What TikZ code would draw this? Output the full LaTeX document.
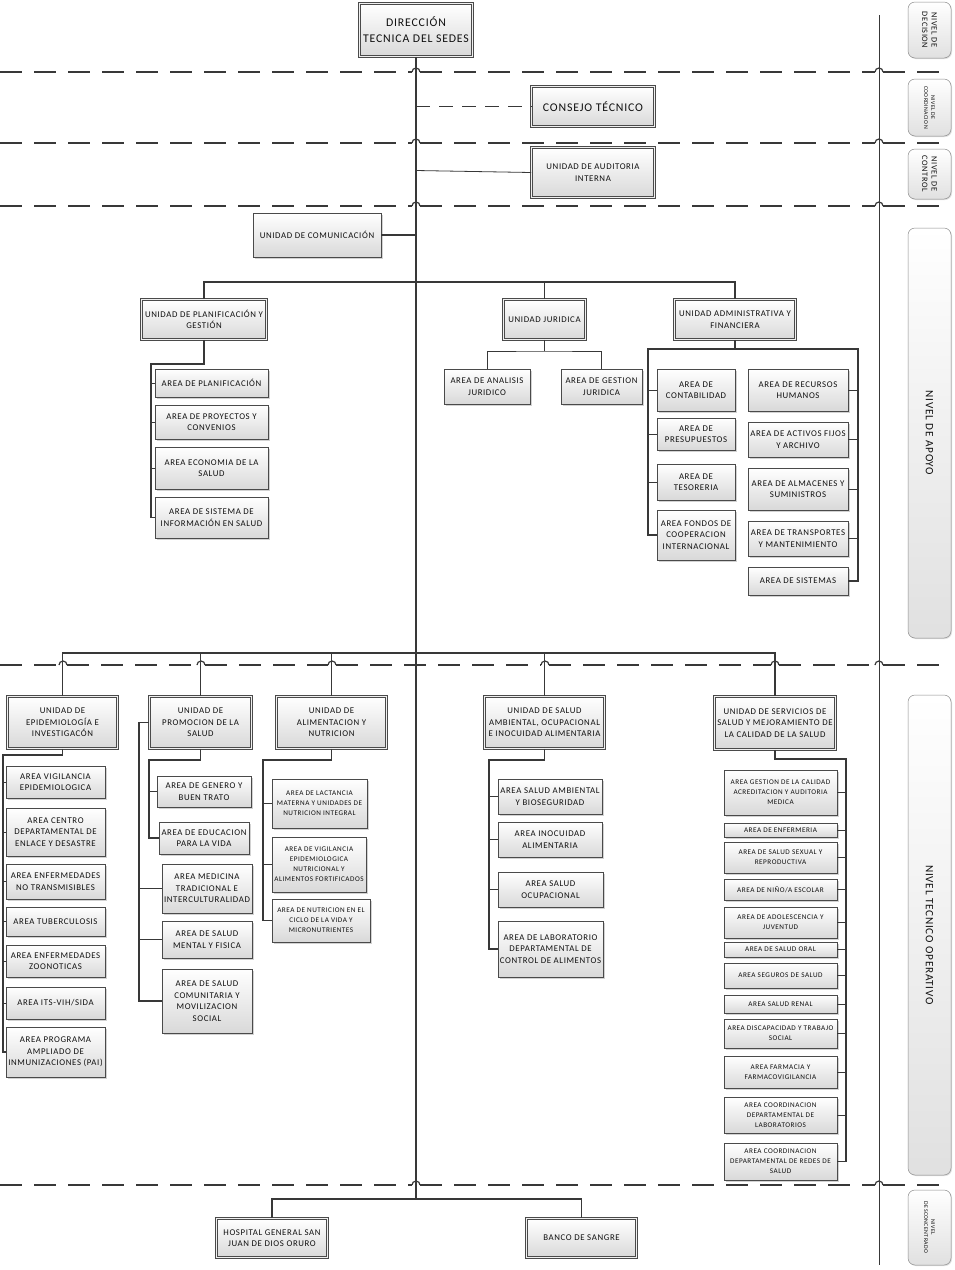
\documentclass[tikz,border=0pt]{standalone}
\usepackage{fontspec}
\setmainfont{Carlito}[LetterSpace=7]
\usetikzlibrary{shadows}
\definecolor{ln}{HTML}{383838}
\definecolor{bd}{HTML}{4A4A4A}
\definecolor{txt}{HTML}{101010}
\newcommand{\fB}{\fontsize{11.8}{16}\selectfont}
\newcommand{\fN}{\fontsize{8.8}{11.5}\selectfont}
\newcommand{\fS}{\fontsize{7.2}{10}\selectfont}
\newcommand{\fL}{\fontsize{11.2}{13}\selectfont}
\tikzset{
 areabox/.style={draw=bd, line width=0.6pt, top color=white, bottom color=black!15,
   drop shadow={opacity=0.35, shadow xshift=1.6pt, shadow yshift=-1.6pt},
   inner sep=0pt, align=center, text=txt, font=\fN},
 unitbox/.style={areabox, double=black!6, double distance=1.8pt},
 sidebox/.style={draw=black!45, line width=0.5pt, rounded corners=7pt, top color=white, bottom color=black!12,
   drop shadow={opacity=0.25, shadow xshift=1pt, shadow yshift=-1pt}, rotate=-90,
   align=center, inner sep=0pt, text=txt},
 trunk/.style={draw=ln, line width=2pt},
 bar/.style={draw=ln, line width=1.5pt},
 spine/.style={draw=ln, line width=1.6pt},
 tick/.style={draw=ln, line width=0.8pt},
 lvl/.style={draw=ln, line width=1.2pt, dash pattern=on 22pt off 12pt},
 hopst/.style={draw=ln, line width=1.2pt},
 cdash/.style={draw=ln, line width=1.2pt, dash pattern=on 14pt off 9pt},
 sideln/.style={draw=ln, line width=0.9pt}
}
% name, x1, y1, x2, y2, options, text
\newcommand{\BX}[7]{\node[#6, minimum width={(#4-#2)*1pt}, minimum height={(#5-#3)*1pt}] (#1) at ({(#2+#4)/2},{(#3+#5)/2}) {#7};}
\newcommand{\UB}[7]{\node[unitbox,#6, minimum width={(#4-#2-3)*1pt}, minimum height={(#5-#3-3)*1pt}] (#1) at ({(#2+#4)/2},{(#3+#5)/2}) {#7};}
\newcommand{\SB}[7]{\node[sidebox,font=#6, minimum width={(#5-#3)*1pt}, minimum height={(#4-#2)*1pt}] (#1) at ({(#2+#4)/2},{(#3+#5)/2}) {#7};}
\begin{document}
\begin{tikzpicture}[x=1pt,y=-1pt]
\useasboundingbox (0,0) rectangle (954,1270);
\fill[white] (0,0) rectangle (954,1270);

% ---- level separators
\foreach \yy in {72,143,206,1185}{
  \draw[lvl] (0,\yy) -- (412,\yy);
  \draw[hopst] (412,\yy) arc[start angle=180,end angle=0,radius=4pt];
  \draw[lvl] (420,\yy) -- (875,\yy);
  \draw[hopst] (875,\yy) arc[start angle=180,end angle=0,radius=4pt];
  \draw[lvl] (883,\yy) -- (945,\yy);
}
\foreach \a/\b in {0/59,67/197,205/328,336/541,549/771,779/875,883/945}
  \draw[lvl] (\a,665) -- (\b,665);
\foreach \h in {63,201,332,545,775,879}
  \draw[hopst] (\h-4,665) arc[start angle=180,end angle=0,radius=4pt];
\draw[sideln] (879,15) -- (879,1265);

% ---- side level labels
\SB{lv1}{908}{2}{951}{58}{\fontsize{8.3}{9.5}\selectfont}{NIVEL DE\\DECISION}
\SB{lv2}{908}{79}{951}{136}{\fontsize{5.8}{7}\selectfont}{NIVEL DE\\COORDINACION}
\SB{lv3}{908}{149}{951}{199}{\fontsize{8.3}{9.5}\selectfont}{NIVEL DE\\CONTROL}
\SB{lv4}{908}{228}{951}{638}{\fL}{NIVEL DE APOYO}
\SB{lv5}{908}{695}{951}{1175}{\fL}{NIVEL TECNICO OPERATIVO}
\SB{lv6}{908}{1190}{951}{1265}{\fontsize{5.8}{7}\selectfont}{NIVEL\\DESCONCENTRADO}

% ---- top
\UB{dir}{358}{2}{474}{58}{font=\fB}{DIRECCIÓN\\TECNICA DEL SEDES}
\UB{cons}{530}{85}{656}{128}{font=\fB}{CONSEJO TÉCNICO}
\UB{aud}{530}{146}{656}{199}{}{UNIDAD DE AUDITORIA\\INTERNA}
\BX{com}{253}{213}{381}{257}{areabox}{UNIDAD DE COMUNICACIÓN}

% ---- apoyo
\UB{plan}{140}{298}{268}{341}{}{UNIDAD DE PLANIFICACIÓN Y\\GESTIÓN}
\UB{jur}{502}{298}{587}{341}{}{UNIDAD JURIDICA}
\UB{adm}{673}{298}{797}{341}{}{UNIDAD ADMINISTRATIVA Y\\FINANCIERA}
\BX{p1}{155}{369}{268}{397}{areabox}{AREA DE PLANIFICACIÓN}
\BX{p2}{155}{405}{268}{439}{areabox}{AREA DE PROYECTOS Y\\CONVENIOS}
\BX{p3}{155}{447}{268}{489}{areabox}{AREA ECONOMIA DE LA\\SALUD}
\BX{p4}{155}{497}{268}{538}{areabox}{AREA DE SISTEMA DE\\INFORMACIÓN EN SALUD}
\BX{ja}{444}{369}{530}{404}{areabox}{AREA DE ANALISIS\\JURIDICO}
\BX{jg}{561}{369}{642}{404}{areabox}{AREA DE GESTION\\JURIDICA}
\BX{a1}{657}{369}{735}{411}{areabox}{AREA DE\\CONTABILIDAD}
\BX{a2}{657}{418}{735}{450}{areabox}{AREA DE\\PRESUPUESTOS}
\BX{a3}{657}{464}{735}{500}{areabox}{AREA DE\\TESORERIA}
\BX{a4}{657}{510}{735}{560}{areabox}{AREA FONDOS DE\\COOPERACION\\INTERNACIONAL}
\BX{a5}{748}{369}{848}{411}{areabox}{AREA DE RECURSOS\\HUMANOS}
\BX{a6}{748}{422}{848}{457}{areabox}{AREA DE ACTIVOS FIJOS\\Y ARCHIVO}
\BX{a7}{748}{468}{848}{510}{areabox}{AREA DE ALMACENES Y\\SUMINISTROS}
\BX{a8}{748}{521}{848}{556}{areabox}{AREA DE TRANSPORTES\\Y MANTENIMIENTO}
\BX{a9}{748}{567}{848}{595}{areabox}{AREA DE SISTEMAS}

% ---- tecnico operativo
\UB{epi}{6}{695}{119}{750}{}{UNIDAD DE\\EPIDEMIOLOGÍA E\\INVESTIGACÓN}
\UB{promo}{148}{695}{253}{750}{}{UNIDAD DE\\PROMOCION DE LA\\SALUD}
\UB{alim}{275}{695}{388}{750}{}{UNIDAD DE\\ALIMENTACION Y\\NUTRICION}
\UB{samb}{483}{695}{606}{750}{}{UNIDAD DE SALUD\\AMBIENTAL, OCUPACIONAL\\E INOCUIDAD ALIMENTARIA}
\UB{serv}{713}{695}{837}{751}{}{UNIDAD DE SERVICIOS DE\\SALUD Y MEJORAMIENTO DE\\LA CALIDAD DE LA SALUD}

\BX{e1}{6}{766}{105}{798}{areabox}{AREA VIGILANCIA\\EPIDEMIOLOGICA}
\BX{e2}{6}{808}{105}{856}{areabox}{AREA CENTRO\\DEPARTAMENTAL DE\\ENLACE Y DESASTRE}
\BX{e3}{6}{864}{105}{899}{areabox}{AREA ENFERMEDADES\\NO TRANSMISIBLES}
\BX{e4}{6}{907}{105}{936}{areabox}{AREA TUBERCULOSIS}
\BX{e5}{6}{945}{105}{977}{areabox}{AREA ENFERMEDADES\\ZOONOTICAS}
\BX{e6}{6}{987}{105}{1019}{areabox}{AREA ITS-VIH/SIDA}
\BX{e7}{6}{1027}{105}{1077}{areabox}{AREA PROGRAMA\\AMPLIADO DE\\INMUNIZACIONES (PAI)}

\BX{pr1}{157}{776}{251}{807}{areabox}{AREA DE GENERO Y\\BUEN TRATO}
\BX{pr2}{159}{822}{249}{854}{areabox}{AREA DE EDUCACION\\PARA LA VIDA}
\BX{pr3}{162}{864}{252}{913}{areabox}{AREA MEDICINA\\TRADICIONAL E\\INTERCULTURALIDAD}
\BX{pr4}{162}{921}{252}{958}{areabox}{AREA DE SALUD\\MENTAL Y FISICA}
\BX{pr5}{162}{969}{252}{1033}{areabox}{AREA DE SALUD\\COMUNITARIA Y\\MOVILIZACION\\SOCIAL}

\BX{al1}{272}{779}{367}{828}{areabox,font=\fS}{AREA DE LACTANCIA\\MATERNA Y UNIDADES DE\\NUTRICION INTEGRAL}
\BX{al2}{272}{837}{366}{892}{areabox,font=\fS}{AREA DE VIGILANCIA\\EPIDEMIOLOGICA\\NUTRICIONAL Y\\ALIMENTOS FORTIFICADOS}
\BX{al3}{272}{899}{370}{942}{areabox,font=\fS}{AREA DE NUTRICION EN EL\\CICLO DE LA VIDA Y\\MICRONUTRIENTES}

\BX{sa1}{498}{779}{602}{814}{areabox}{AREA SALUD AMBIENTAL\\Y BIOSEGURIDAD}
\BX{sa2}{498}{822}{602}{857}{areabox}{AREA INOCUIDAD\\ALIMENTARIA}
\BX{sa3}{498}{872}{603}{907}{areabox}{AREA SALUD\\OCUPACIONAL}
\BX{sa4}{498}{921}{603}{977}{areabox}{AREA DE LABORATORIO\\DEPARTAMENTAL DE\\CONTROL DE ALIMENTOS}

\BX{sv1}{724}{770}{837}{815}{areabox,font=\fS}{AREA GESTION DE LA CALIDAD\\ACREDITACION Y AUDITORIA\\MEDICA}
\BX{sv2}{724}{823}{837}{837}{areabox,font=\fS}{AREA DE ENFERMERIA}
\BX{sv3}{724}{842}{837}{873}{areabox,font=\fS}{AREA DE SALUD SEXUAL Y\\REPRODUCTIVA}
\BX{sv4}{724}{879}{837}{900}{areabox,font=\fS}{AREA DE NIÑO/A ESCOLAR}
\BX{sv5}{724}{907}{837}{938}{areabox,font=\fS}{AREA DE ADOLESCENCIA Y\\JUVENTUD}
\BX{sv6}{724}{942}{837}{957}{areabox,font=\fS}{AREA DE SALUD ORAL}
\BX{sv7}{724}{963}{837}{988}{areabox,font=\fS}{AREA SEGUROS DE SALUD}
\BX{sv8}{724}{995}{837}{1013}{areabox,font=\fS}{AREA SALUD RENAL}
\BX{sv9}{724}{1019}{837}{1048}{areabox,font=\fS}{AREA DISCAPACIDAD Y TRABAJO\\SOCIAL}
\BX{sv10}{724}{1056}{837}{1088}{areabox,font=\fS}{AREA FARMACIA Y\\FARMACOVIGILANCIA}
\BX{sv11}{724}{1097}{837}{1133}{areabox,font=\fS}{AREA COORDINACION\\DEPARTAMENTAL DE\\LABORATORIOS}
\BX{sv12}{724}{1143}{837}{1180}{areabox,font=\fS}{AREA COORDINACION\\DEPARTAMENTAL DE REDES DE\\SALUD}

% ---- desconcentrado
\UB{hosp}{215}{1217}{329}{1259}{}{HOSPITAL GENERAL SAN\\JUAN DE DIOS ORURO}
\UB{banco}{525}{1217}{638}{1259}{}{BANCO DE SANGRE}

% ================= connectors
\coordinate (tbot) at (416,1199);
\draw[trunk] (dir.south) -- (tbot);
\draw[bar] (hosp.north) |- (tbot) -| (banco.north);
\draw[cdash] (cons.west -| dir.south) -- (cons.west);
\draw[tick] ([yshift=2pt]aud.west -| dir.south) -- (aud.west);
\draw[bar] (com.east) -- (com.east -| dir.south);

% apoyo
\coordinate (ab) at (416,282);
\draw[bar] (plan.north) |- (ab) -| (adm.north);
\draw[bar] (jur.north) -- (jur.north |- ab);
\coordinate (jb) at (544,351);
\draw[tick] (jur.south) -- (jur.south |- jb);
\draw[tick] (ja.north) |- (jb) -| (jg.north);

\coordinate (ps) at (151,364);
\draw[spine] (plan.south) |- (ps) |- (p4.west);
\foreach \n in {p1,p2,p3} \draw[tick] (ps |- \n.west) -- (\n.west);

\coordinate (al) at (648,349);
\coordinate (ar) at (858,349);
\draw[spine] (adm.south) -- (adm.south |- al);
\draw[spine] (a4.west) -| (al) -- (ar) |- (a9.east);
\foreach \n in {a1,a2,a3} \draw[tick] (al |- \n.west) -- (\n.west);
\foreach \n in {a5,a6,a7,a8} \draw[tick] (ar |- \n.east) -- (\n.east);

% tecnico
\coordinate (tb1) at (416,653);
\draw[bar] (epi.north) |- (tb1) -| (serv.north);
\foreach \n in {promo,alim,samb} \draw[tick] (\n.north) -- (\n.north |- tb1);

\coordinate (es) at (3,755);
\draw[spine] (epi.south) |- (es) |- (e7.west);
\foreach \n in {e1,e2,e3,e4,e5,e6} \draw[tick] (es |- \n.west) -- (\n.west);

\coordinate (prs) at (149,760);
\draw[spine] (promo.south) |- (prs) |- (pr2.west);
\draw[tick] (prs |- pr1.west) -- (pr1.west);
\coordinate (prl) at (139,723);
\draw[spine] (promo.west) -- (promo.west -| prl) |- (pr5.west);
\foreach \n in {pr3,pr4} \draw[tick] (prl |- \n.west) -- (\n.west);

\coordinate (als) at (263,760);
\draw[spine] (alim.south) |- (als) |- (al3.west);
\foreach \n in {al1,al2} \draw[tick] (als |- \n.west) -- (\n.west);

\coordinate (sas) at (489,760);
\draw[spine] (samb.south) |- (sas) |- (sa4.west);
\foreach \n in {sa1,sa2,sa3} \draw[tick] (sas |- \n.west) -- (\n.west);

\coordinate (svs) at (846,759);
\draw[spine] (serv.south) |- (svs) |- (sv12.east);
\foreach \n in {sv1,sv2,sv3,sv4,sv5,sv6,sv7,sv8,sv9,sv10,sv11} \draw[tick] (svs |- \n.east) -- (\n.east);
\end{tikzpicture}
\end{document}
